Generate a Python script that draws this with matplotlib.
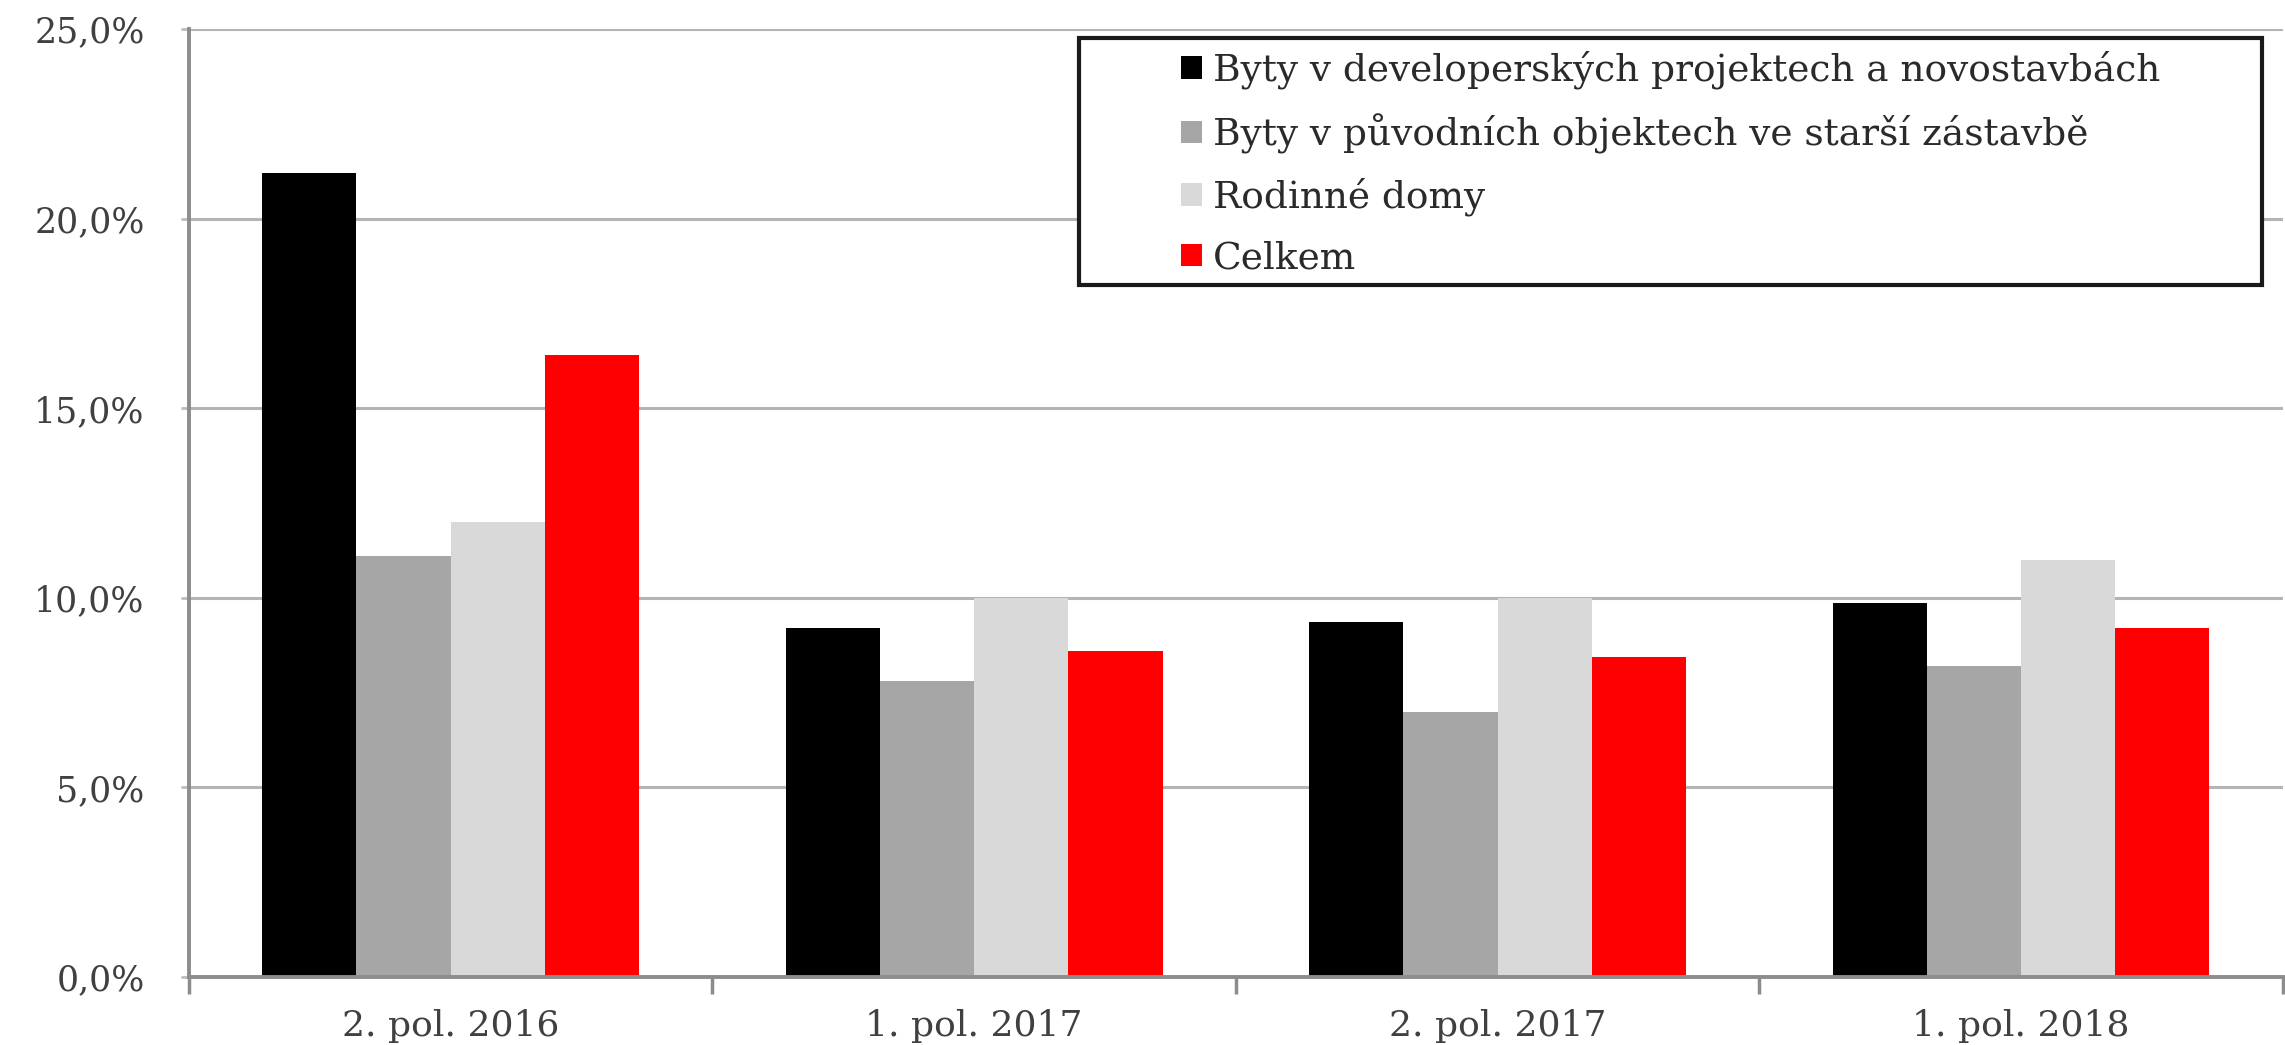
import matplotlib
matplotlib.use("Agg")
import matplotlib.pyplot as plt
from matplotlib.patches import Rectangle
import numpy as np

# obdobi a hodnoty (v %)
obdobi = ["2. pol. 2016", "1. pol. 2017", "2. pol. 2017", "1. pol. 2018"]
developerske = [21.2, 9.2, 9.35, 9.85]
puvodni = [11.1, 7.8, 7.0, 8.2]
rodinne_domy = [12.0, 10.0, 10.0, 11.0]
celkem = [16.4, 8.6, 8.45, 9.2]

serie = [
    ("Byty v developerských projektech a novostavbách", developerske, "#000000"),
    ("Byty v původních objektech ve starší zástavbě", puvodni, "#a6a6a6"),
    ("Rodinné domy", rodinne_domy, "#d9d9d9"),
    ("Celkem", celkem, "#ff0000"),
]

plt.rcParams["font.family"] = ["DejaVu Serif"]

fig = plt.figure(figsize=(22.85, 10.45), dpi=100)
ax = fig.add_axes([0.0827, 0.0651, 0.9163, 0.9071])

x = np.arange(len(obdobi))
w = 0.18
for k, (nazev, hodnoty, barva) in enumerate(serie):
    ax.bar(x + (k - 1.5) * w, hodnoty, width=w, color=barva, label=nazev, zorder=3)

ax.set_xlim(-0.5, len(obdobi) - 0.5)
ax.set_ylim(0, 25)
ax.set_yticks(np.arange(0, 26, 5))
ax.set_yticklabels([f"{v:.1f}".replace(".", ",") + "%" for v in np.arange(0, 26, 5)])
ax.set_xticks(x)
ax.set_xticklabels(obdobi)
ax.set_xticks(np.arange(-0.5, len(obdobi)), minor=True)
ax.tick_params(axis="x", which="major", length=0, pad=23, labelsize=26, colors="#404040")
ax.tick_params(axis="x", which="minor", length=12, width=2.5, color="#8c8c8c")
ax.tick_params(axis="y", length=6, width=2, color="#bbbbbb", pad=26, labelsize=25, labelcolor="#404040")

ax.grid(axis="y", color="#b4b4b4", linewidth=2.2, zorder=0)
for s in ["top", "right"]:
    ax.spines[s].set_visible(False)
for s in ["left", "bottom"]:
    ax.spines[s].set_color("#8c8c8c")
    ax.spines[s].set_linewidth(2.8)
ax.spines["bottom"].set_zorder(4)

# ramecek legendy
ax.add_patch(Rectangle((0.425, 0.730), 0.565, 0.2605, transform=ax.transAxes,
                       facecolor="white", edgecolor="#1a1a1a", linewidth=3, zorder=5))
leg = ax.legend(loc="upper left", bbox_to_anchor=(0.474, 0.977), frameon=False,
                fontsize=27, handlelength=0.55, handleheight=0.55, handletextpad=0.3,
                labelspacing=0.64, borderpad=0, borderaxespad=0)
leg.set_zorder(6)
for t in leg.get_texts():
    t.set_color("#2a2a2a")

fig.savefig("out.png", dpi=100)
